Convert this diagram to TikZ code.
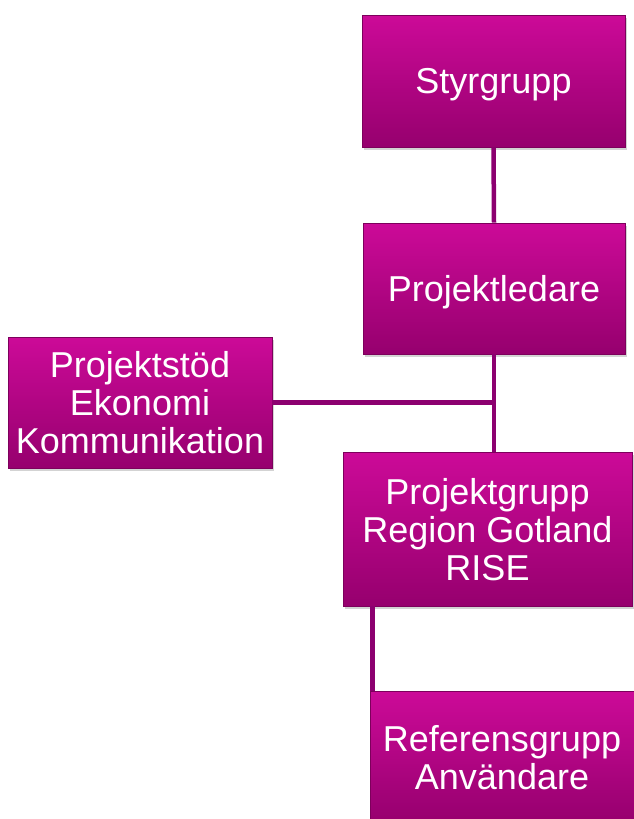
\documentclass[tikz,border=0pt]{standalone}
\usepackage{fontspec}
\setmainfont{Liberation Sans}
\usetikzlibrary{positioning, shadows, calc}
\definecolor{boxtop}{RGB}{204,10,152}
\definecolor{boxbot}{RGB}{150,0,110}
\definecolor{boxedge}{RGB}{125,0,92}
\definecolor{linecol}{RGB}{140,0,112}

\begin{document}
\begin{tikzpicture}[
			x=1pt,
			y=-1pt,
			box/.style={
				rectangle,
				draw=boxedge,
				line width=0.8pt,
				top color=boxtop,
				bottom color=boxbot,
				text=white,
				align=center,
				inner sep=0pt,
				text depth=0pt,
				font=\fontsize{36}{38}\selectfont,
				drop shadow={shadow xshift=2pt, shadow yshift=-3pt, opacity=0.35}
			},
			conn/.style={
				draw=linecol,
				line width=4.5pt
			}
			]
			\useasboundingbox (0,0) rectangle (634,819);
			\clip (0,0) rectangle (634,819);
			 % Boxes
			\node[box, minimum width=263pt, minimum height=132pt] (styr) at (493.5,81) {Styrgrupp};
			\node[box, minimum width=262pt, minimum height=131pt] (ledare) at (494,288.5) {Projektledare};
			\node[box, minimum width=264pt, minimum height=131pt] (stod) at (140,402.5) {Projektstöd\\Ekonomi\\Kommunikation};
			\node[box, minimum width=289pt, minimum height=154pt] (grupp) at (487.5,529) {Projektgrupp\\Region Gotland\\RISE};
			\node[box, minimum width=264pt, minimum height=131pt] (referens) at (502,757) {Referensgrupp\\Användare};
			
			% Lines
			\draw[conn] (styr.south) -- (ledare.north);
			\draw[conn] (ledare.south) -- (ledare.south |- grupp.north);
			\draw[conn] (stod.east) -- (stod.east -| ledare.south);
			\draw[conn] ([xshift=3pt]referens.north west) -- ([xshift=3pt]referens.north west |- grupp.south);
		\end{tikzpicture}
\end{document}
